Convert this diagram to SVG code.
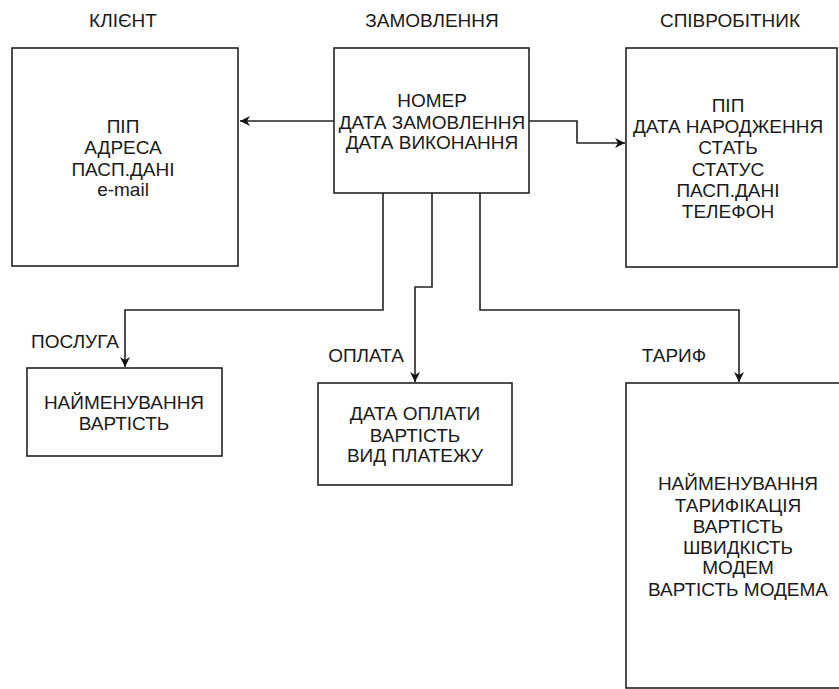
<svg xmlns="http://www.w3.org/2000/svg" width="839" height="689" viewBox="0 0 839 689">
<style>
rect.box{fill:#fff;stroke:#222;stroke-width:1.6}
text{font-family:"Liberation Sans",Arial,sans-serif;font-size:19px;fill:#1a1a1a;text-anchor:middle}
.conn path{fill:none;stroke:#222;stroke-width:1.6}
</style>
<defs>
<marker id="arr" viewBox="0 0 10 10" refX="10" refY="5" markerWidth="10" markerHeight="10" markerUnits="userSpaceOnUse" orient="auto">
<path d="M0,0 L10,5 L0,10 L3,5 Z" fill="#111"/>
</marker>
</defs>
<rect width="839" height="689" fill="#fff"/>
<g id="client">
<text x="123" y="27">КЛІЄНТ</text>
<rect class="box" x="12" y="48" width="226" height="218"/>
<text x="123" y="133">ПІП</text>
<text x="123" y="154">АДРЕСА</text>
<text x="123" y="176">ПАСП.ДАНІ</text>
<text x="123" y="196">e-mail</text>
</g>
<g id="order">
<text x="432" y="27">ЗАМОВЛЕННЯ</text>
<rect class="box" x="334" y="48" width="195" height="145"/>
<text x="432" y="107">НОМЕР</text>
<text x="432" y="129">ДАТА ЗАМОВЛЕННЯ</text>
<text x="432" y="149">ДАТА ВИКОНАННЯ</text>
</g>
<g id="employee">
<text x="730" y="27">СПІВРОБІТНИК</text>
<rect class="box" x="626" y="48" width="211" height="219"/>
<text x="728" y="112">ПІП</text>
<text x="728" y="133">ДАТА НАРОДЖЕННЯ</text>
<text x="728" y="154">СТАТЬ</text>
<text x="728" y="176">СТАТУС</text>
<text x="728" y="197">ПАСП.ДАНІ</text>
<text x="728" y="218">ТЕЛЕФОН</text>
</g>
<g id="service">
<text x="75" y="348">ПОСЛУГА</text>
<rect class="box" x="27" y="368" width="195" height="88"/>
<text x="124" y="409">НАЙМЕНУВАННЯ</text>
<text x="124" y="430">ВАРТІСТЬ</text>
</g>
<g id="payment">
<text x="366" y="362">ОПЛАТА</text>
<rect class="box" x="318" y="383" width="194" height="102"/>
<text x="415" y="420">ДАТА ОПЛАТИ</text>
<text x="415" y="442">ВАРТІСТЬ</text>
<text x="415" y="462">ВИД ПЛАТЕЖУ</text>
</g>
<g id="tariff">
<text x="674" y="362">ТАРИФ</text>
<rect class="box" x="626" y="383" width="224" height="305"/>
<text x="738" y="490">НАЙМЕНУВАННЯ</text>
<text x="738" y="512">ТАРИФІКАЦІЯ</text>
<text x="738" y="533">ВАРТІСТЬ</text>
<text x="738" y="554">ШВИДКІСТЬ</text>
<text x="738" y="574">МОДЕМ</text>
<text x="738" y="596">ВАРТІСТЬ МОДЕМА</text>
</g>
<g class="conn" id="connectors">
<path d="M334,121 H240" marker-end="url(#arr)"/>
<path d="M529,121 H577 V143 H625" marker-end="url(#arr)"/>
<path d="M383,193 V310 H125 V367" marker-end="url(#arr)"/>
<path d="M432,193 V287 H415 V382" marker-end="url(#arr)"/>
<path d="M480,193 V310 H739 V382" marker-end="url(#arr)"/>
</g>
</svg>
